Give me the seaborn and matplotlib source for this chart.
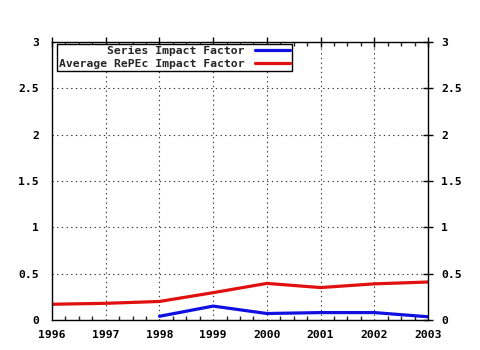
import matplotlib
matplotlib.use("Agg")
import matplotlib.pyplot as plt
import seaborn as sns
import pandas as pd
from matplotlib.ticker import MultipleLocator, FuncFormatter

years_series = [1998, 1999, 2000, 2001, 2002, 2003]
series_if = [0.04, 0.15, 0.07, 0.08, 0.08, 0.035]
years_avg = [1996, 1997, 1998, 1999, 2000, 2001, 2002, 2003]
avg_if = [0.17, 0.18, 0.20, 0.295, 0.395, 0.35, 0.39, 0.41]
labels = ["Series Impact Factor", "Average RePEc Impact Factor"]

sns.set_style("white")
plt.rcParams['font.family'] = ['DejaVu Sans Mono', 'DejaVu Sans']
plt.rcParams['font.weight'] = 'bold'

df = pd.concat([
    pd.DataFrame({"year": years_series, "value": series_if, "name": labels[0]}),
    pd.DataFrame({"year": years_avg, "value": avg_if, "name": labels[1]}),
])

fig = plt.figure(figsize=(4.8, 3.5), dpi=100)
ax = fig.add_axes([52/480, 1 - 320/350, 376/480, 278/350])
sns.lineplot(data=df, x="year", y="value", hue="name",
             palette={labels[0]: "#1010e0", labels[1]: "#e01010"},
             linewidth=2.3, ax=ax, legend=True)

ax.set_xlim(1996, 2003)
ax.set_ylim(0, 3)
ax.set_xlabel("")
ax.set_ylabel("")
ax.xaxis.set_major_locator(MultipleLocator(1))
ax.xaxis.set_minor_locator(MultipleLocator(0.25))
ax.yaxis.set_major_locator(MultipleLocator(0.5))
ax.xaxis.set_major_formatter(FuncFormatter(lambda v, p: f"{int(round(v))}"))
ax.yaxis.set_major_formatter(FuncFormatter(lambda v, p: f"{v:g}"))
ax.grid(True, which="major", color="#333333", linestyle=(0, (1.2, 3)), linewidth=0.8)
for s in ax.spines.values():
    s.set_color("black")
    s.set_linewidth(1.0)
ax.tick_params(axis="both", which="major", direction="inout", length=7, width=1,
               colors="black", labelsize=8.2, top=True, right=True,
               labelright=True, labelleft=True)
ax.tick_params(axis="x", which="major", pad=4)
ax.tick_params(axis="y", which="major", pad=6)
ax.tick_params(axis="x", which="minor", direction="in", length=3, width=1,
               top=True, bottom=True)
for t in ax.get_xticklabels() + ax.get_yticklabels():
    t.set_fontweight("bold")

h, l = ax.get_legend_handles_labels()
leg = ax.legend(h, l, loc="upper left", bbox_to_anchor=(5/376, 1 - 2/278),
                borderaxespad=0, markerfirst=False, fancybox=False,
                frameon=True, framealpha=1, edgecolor="black",
                prop={"family": "DejaVu Sans Mono", "weight": "bold", "size": 8.2},
                handlelength=3.1, handletextpad=0.9, borderpad=0.15,
                labelspacing=0.28)
leg.get_frame().set_linewidth(1.0)

fig.savefig("out.png", dpi=100)
